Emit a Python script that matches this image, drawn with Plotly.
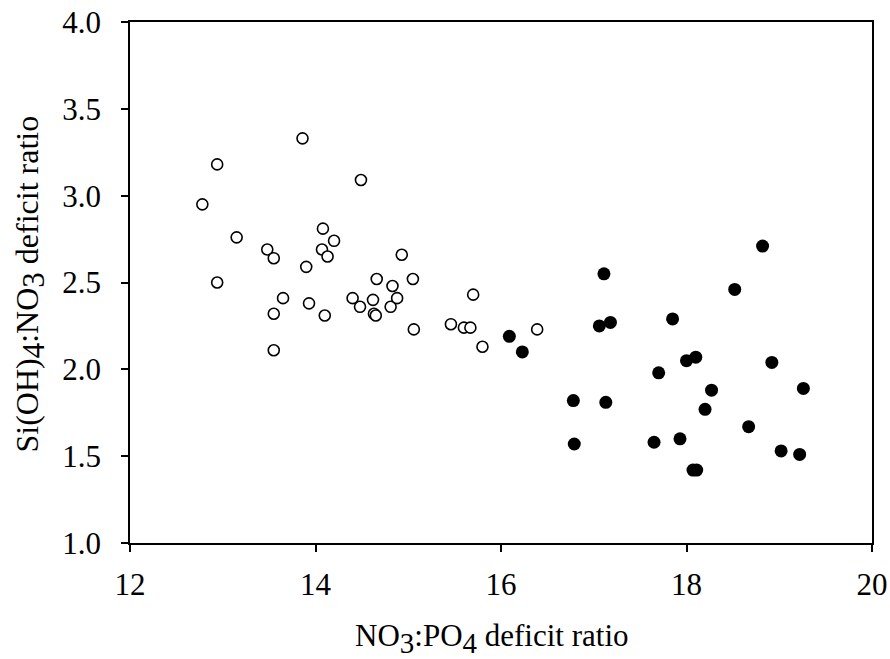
import plotly.graph_objects as go

# Open circles
open_x = [12.78, 12.94, 12.94, 13.15, 13.48, 13.55, 13.55, 13.55, 13.65, 13.86,
          13.90, 13.93, 14.08, 14.07, 14.13, 14.10, 14.20, 14.49, 14.40, 14.48,
          14.62, 14.63, 14.65, 14.66, 14.83, 14.81, 14.88, 14.93, 15.05, 15.06,
          15.46, 15.60, 15.67, 15.70, 15.80, 16.39]
open_y = [2.95, 3.18, 2.50, 2.76, 2.69, 2.64, 2.32, 2.11, 2.41, 3.33,
          2.59, 2.38, 2.81, 2.69, 2.65, 2.31, 2.74, 3.09, 2.41, 2.36,
          2.40, 2.32, 2.31, 2.52, 2.48, 2.36, 2.41, 2.66, 2.52, 2.23,
          2.26, 2.24, 2.24, 2.43, 2.13, 2.23]

# Filled circles
fill_x = [16.09, 16.23, 17.11, 17.06, 17.18, 16.78, 17.13, 16.79, 17.85, 18.82,
          18.52, 17.70, 18.00, 18.10, 18.92, 18.27, 19.26, 18.20, 18.67, 17.65,
          17.93, 19.02, 19.22, 18.07, 18.11]
fill_y = [2.19, 2.10, 2.55, 2.25, 2.27, 1.82, 1.81, 1.57, 2.29, 2.71,
          2.46, 1.98, 2.05, 2.07, 2.04, 1.88, 1.89, 1.77, 1.67, 1.58,
          1.60, 1.53, 1.51, 1.42, 1.42]

FONT = "Liberation Serif, Times New Roman, serif"


def sub(s, size):
    return '<sub><span style="font-size:%dpx">%s</span></sub>' % (size, s)


x_title = "NO" + sub("3", 29) + ":PO" + sub("4", 29) + " deficit ratio"
y_title = "Si(OH)" + sub("4", 31) + ":NO" + sub("3", 31) + " deficit ratio"

fig = go.Figure()
fig.add_trace(go.Scatter(
    x=open_x, y=open_y, mode="markers",
    marker=dict(symbol="circle", size=11, color="white",
                line=dict(color="black", width=1.6)),
    showlegend=False, cliponaxis=False))
fig.add_trace(go.Scatter(
    x=fill_x, y=fill_y, mode="markers",
    marker=dict(symbol="circle", size=13, color="black",
                line=dict(color="black", width=0)),
    showlegend=False, cliponaxis=False))

axis_common = dict(
    showgrid=False, zeroline=False, showline=True, linecolor="black",
    linewidth=1.5, mirror=True, ticks="outside", ticklen=7, tickwidth=1.5,
    tickcolor="black", tickfont=dict(family=FONT, size=31, color="black"),
    automargin=False,
)

fig.update_xaxes(range=[12, 20], tickvals=[12, 14, 16, 18, 20],
                 ticklabelstandoff=6, **axis_common)
fig.update_yaxes(range=[1, 4], tickvals=[1.0, 1.5, 2.0, 2.5, 3.0, 3.5, 4.0],
                 tickformat=".1f", ticklabelstandoff=14, **axis_common)

fig.add_annotation(text=x_title, xref="paper", yref="paper", x=0.5, y=0,
                   xanchor="center", yanchor="middle", yshift=-95, xshift=-9,
                   showarrow=False, font=dict(family=FONT, size=31, color="black"))
fig.add_annotation(text=y_title, xref="paper", yref="paper", x=0, y=0.5,
                   xanchor="center", yanchor="middle", xshift=-100, yshift=-2,
                   textangle=-90,
                   showarrow=False, font=dict(family=FONT, size=32, color="black"))

fig.update_layout(
    width=890, height=659,
    margin=dict(l=130, r=18, t=22, b=116, pad=0),
    plot_bgcolor="white", paper_bgcolor="white",
    font=dict(family=FONT, size=30, color="black"),
)

fig.write_html("out.html")
